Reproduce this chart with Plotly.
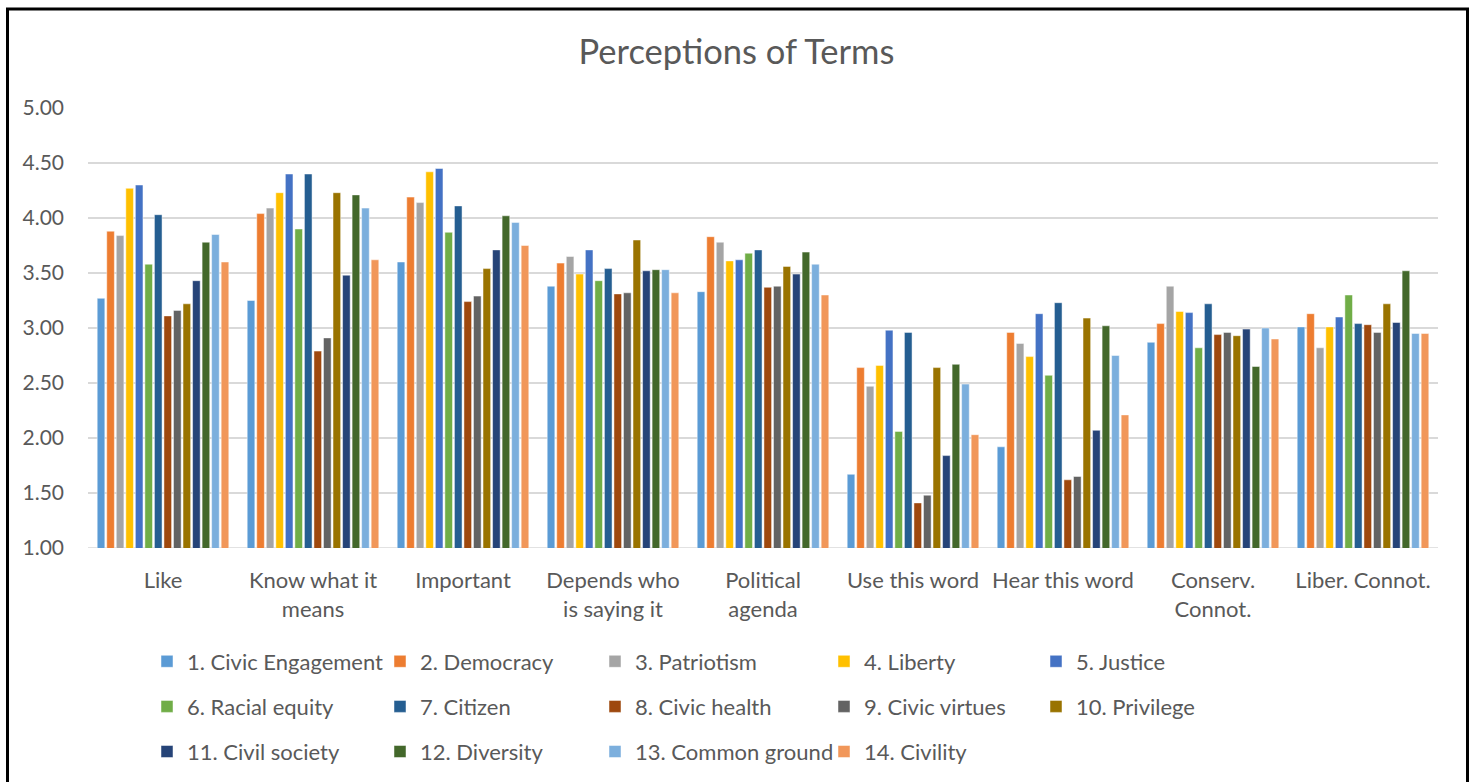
import plotly.graph_objects as go

# Survey question categories (x axis)
categories = [
    "Like", "Know what it<br>means", "Important", "Depends who<br>is saying it",
    "Political<br>agenda", "Use this word", "Hear this word",
    "Conserv.<br>Connot.", "Liber. Connot.",
]

# Mean rating per term, one value per category
civic_engagement = [3.27, 3.25, 3.60, 3.38, 3.33, 1.67, 1.92, 2.87, 3.01]
democracy        = [3.88, 4.04, 4.19, 3.59, 3.83, 2.64, 2.96, 3.04, 3.13]
patriotism       = [3.84, 4.09, 4.14, 3.65, 3.78, 2.47, 2.86, 3.38, 2.82]
liberty          = [4.27, 4.23, 4.42, 3.49, 3.61, 2.66, 2.74, 3.15, 3.01]
justice          = [4.30, 4.40, 4.45, 3.71, 3.62, 2.98, 3.13, 3.14, 3.10]
racial_equity    = [3.58, 3.90, 3.87, 3.43, 3.68, 2.06, 2.57, 2.82, 3.30]
citizen          = [4.03, 4.40, 4.11, 3.54, 3.71, 2.96, 3.23, 3.22, 3.04]
civic_health     = [3.11, 2.79, 3.24, 3.31, 3.37, 1.41, 1.62, 2.94, 3.03]
civic_virtues    = [3.16, 2.91, 3.29, 3.32, 3.38, 1.48, 1.65, 2.96, 2.96]
privilege        = [3.22, 4.23, 3.54, 3.80, 3.56, 2.64, 3.09, 2.93, 3.22]
civil_society    = [3.43, 3.48, 3.71, 3.52, 3.49, 1.84, 2.07, 2.99, 3.05]
diversity        = [3.78, 4.21, 4.02, 3.53, 3.69, 2.67, 3.02, 2.65, 3.52]
common_ground    = [3.85, 4.09, 3.96, 3.53, 3.58, 2.49, 2.75, 3.00, 2.95]
civility         = [3.60, 3.62, 3.75, 3.32, 3.30, 2.03, 2.21, 2.90, 2.95]

series_names = [
    "1. Civic Engagement", "2. Democracy", "3. Patriotism", "4. Liberty",
    "5. Justice", "6. Racial equity", "7. Citizen", "8. Civic health",
    "9. Civic virtues", "10. Privilege", "11. Civil society", "12. Diversity",
    "13. Common ground", "14. Civility",
]
series_values = [
    civic_engagement, democracy, patriotism, liberty, justice, racial_equity,
    citizen, civic_health, civic_virtues, privilege, civil_society, diversity,
    common_ground, civility,
]
series_colors = [
    "#5B9BD5", "#ED7D31", "#A5A5A5", "#FFC000", "#4472C4", "#70AD47",
    "#255E91", "#9E480E", "#636363", "#997300", "#264478", "#43682B",
    "#7CAFDD", "#F1975A",
]

y_ticks = [1.0, 1.5, 2.0, 2.5, 3.0, 3.5, 4.0, 4.5, 5.0]

FONT = "Lato, 'Open Sans', sans-serif"
TEXT = "#595959"

W, H = 1473, 782
L, R, T, B = 88, 35, 108, 234
plot_w = W - L - R
plot_h = H - T - B

def px_x(px):
    return (px - L) / plot_w

def px_y(py):
    return (H - B - py) / plot_h

# legend laid out as five columns, filled row by row
N_COLS = 5
legend_ids = ["legend"] + [f"legend{k}" for k in range(2, N_COLS + 1)]
legend_left_px = [147, 380, 595, 824, 1036]

fig = go.Figure()
for i, (name, vals, col) in enumerate(zip(series_names, series_values, series_colors)):
    fig.add_trace(go.Bar(
        name=name,
        x=categories,
        y=vals,
        marker=dict(color=col, line=dict(color="rgba(255,255,255,0.6)", width=0.8)),
        legend=legend_ids[i % N_COLS],
        legendgroup=f"g{i}",
        hovertemplate="%{y:.2f}<extra>" + name + "</extra>",
    ))

legend_layouts = {}
for lid, left in zip(legend_ids, legend_left_px):
    legend_layouts[lid] = dict(
        orientation="v",
        xanchor="left",
        yanchor="top",
        x=px_x(left),
        y=px_y(640.5),
        font=dict(family=FONT, size=22, color=TEXT),
        bgcolor="rgba(0,0,0,0)",
        itemclick=False,
        itemdoubleclick=False,
        traceorder="grouped",
        tracegroupgap=13.5,
    )

fig.update_layout(
    width=W,
    height=H,
    margin=dict(l=L, r=R, t=T, b=B, autoexpand=False),
    paper_bgcolor="white",
    plot_bgcolor="white",
    barmode="group",
    bargap=0.11,
    bargroupgap=0.2,
    title=dict(
        text="Perceptions of Terms",
        x=0.5,
        xanchor="center",
        y=1 - 52 / H,
        yanchor="middle",
        font=dict(family=FONT, size=34.5, color=TEXT),
    ),
    xaxis=dict(
        showgrid=False,
        showline=False,
        ticks="",
        tickfont=dict(family=FONT, size=22, color=TEXT),
        ticklabelstandoff=17,
        fixedrange=True,
    ),
    yaxis=dict(
        range=[1, 5],
        tickvals=y_ticks,
        tickformat=".2f",
        showgrid=True,
        gridcolor="#D9D9D9",
        gridwidth=1.5,
        zeroline=False,
        showline=False,
        ticks="",
        tickfont=dict(family=FONT, size=21, color=TEXT),
        ticklabelstandoff=23,
        fixedrange=True,
    ),
    shapes=[
        # chart border
        dict(
            type="rect",
            xref="paper", yref="paper",
            x0=px_x(7.5), x1=px_x(1467.5),
            y0=px_y(790), y1=px_y(9),
            line=dict(color="black", width=3),
            fillcolor="rgba(0,0,0,0)",
            layer="above",
        ),
        # baseline at 1.00
        dict(
            type="line",
            xref="paper", yref="y",
            x0=0, x1=1, y0=1, y1=1,
            line=dict(color="#D9D9D9", width=1.5),
            layer="below",
        ),
    ],
    showlegend=True,
    **legend_layouts,
)

fig.write_html("out.html")
